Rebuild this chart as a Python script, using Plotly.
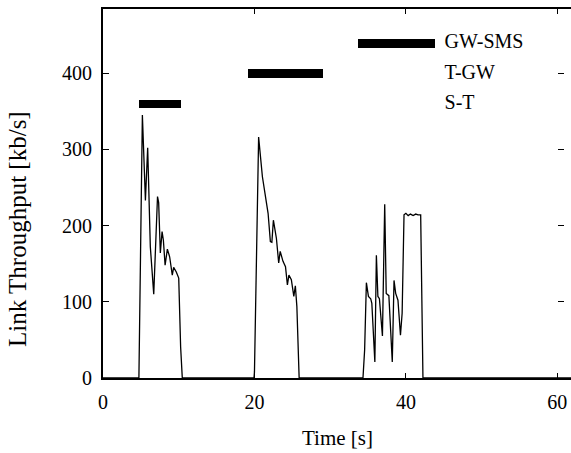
import plotly.graph_objects as go

# Throughput samples (time [s], throughput [kb/s])
time_s = [0, 4.74, 5.2, 5.6, 5.9, 6.25, 6.7, 7.2, 7.35, 7.57, 7.8, 7.97, 8.2, 8.5, 8.8,
          9.15, 9.33, 9.68, 10.0, 10.25, 10.47,
          19.94, 20.0, 20.55, 21.05, 21.44, 21.8, 22.1, 22.3, 22.5, 22.9, 23.2, 23.4,
          23.77, 24.1, 24.35, 24.55, 24.87, 25.2, 25.4, 25.6, 25.9,
          34.33, 34.55, 34.78, 35.05, 35.35, 35.5, 35.9, 36.1, 36.3, 36.5, 36.9, 37.2,
          37.4, 37.75, 38.2, 38.43, 38.65, 38.95, 39.28, 39.5, 39.75, 40.0, 40.3, 40.6,
          40.95, 41.3, 41.6, 41.95, 42.25, 62]
throughput = [0, 0, 345, 233, 302, 172, 110, 238, 230, 164, 192, 181, 148, 169, 159,
              135, 145, 139, 131, 41, 0,
              0, 8, 316, 264, 242, 216, 179, 178, 207, 183, 151, 166,
              153, 146, 122, 135, 129, 107, 121, 94, 0,
              0, 37, 125, 107, 104, 98, 21, 161, 107, 104, 55, 228,
              111, 108, 21, 128, 111, 102, 56, 85, 214, 216, 213, 215,
              213, 215, 214, 214, 0, 0]

# Phase bars
phase_names = ["S-T", "T-GW", "GW-SMS"]
phase_start = [4.7, 19.14, 33.67]
phase_end = [10.35, 29.05, 43.8]
phase_level = [359.5, 399, 439]
label_x = 45.1

x_ticks = [0, 20, 40, 60]
y_ticks = [0, 100, 200, 300, 400]
x_range = [0, 61.8]
y_range = [0, 484]

x_title = "Time [s]"
y_title = "Link Throughput [kb/s]"

font_family = "Liberation Serif"

fig = go.Figure()

fig.add_trace(go.Bar(
    y=phase_level,
    x=[e - s for s, e in zip(phase_start, phase_end)],
    base=phase_start,
    orientation="h",
    width=11.5,
    marker=dict(color="black", line=dict(width=0)),
    showlegend=False,
    hoverinfo="skip",
))

fig.add_trace(go.Scatter(
    x=time_s, y=throughput, mode="lines",
    line=dict(color="black", width=1.3),
    showlegend=False,
))

fig.add_trace(go.Scatter(
    x=[label_x] * len(phase_names), y=phase_level, text=phase_names,
    mode="text", textposition="middle right",
    textfont=dict(family=font_family, size=20, color="black"),
    showlegend=False, cliponaxis=False,
))

# invisible trace for right-side tick axis
fig.add_trace(go.Scatter(x=[None], y=[None], yaxis="y2", showlegend=False))

fig.update_layout(
    width=571, height=453, autosize=False,
    margin=dict(l=103, r=0, t=9, b=75),
    plot_bgcolor="white", paper_bgcolor="white",
    font=dict(family=font_family, size=20, color="black"),
    xaxis=dict(
        range=x_range, tickvals=x_ticks, ticks="inside", ticklen=5, tickwidth=1,
        tickcolor="black", showline=True, linecolor="black", linewidth=2,
        mirror="ticks", showgrid=False, zeroline=False, automargin=False,
        ticklabelstandoff=5,
        domain=[0, 1],
    ),
    yaxis=dict(
        range=y_range, tickvals=y_ticks, ticks="inside", ticklen=6, tickwidth=1,
        tickcolor="black", showline=True, linecolor="black", linewidth=2,
        showgrid=False, zeroline=False, automargin=False,
        ticklabelstandoff=5,
    ),
    yaxis2=dict(
        range=y_range, tickvals=y_ticks, ticks="inside", ticklen=6, tickwidth=1,
        tickcolor="black", showline=False, showgrid=False, zeroline=False,
        showticklabels=False, overlaying="y", anchor="free", side="right",
        position=0.984, automargin=False,
    ),
    annotations=[
        dict(text=x_title, xref="paper", yref="paper", x=0.5, y=-0.1626,
             xanchor="center", yanchor="middle", showarrow=False,
             font=dict(family=font_family, size=21, color="black")),
        dict(text=y_title, xref="paper", yref="paper", x=-0.1816, y=0.404,
             xanchor="center", yanchor="middle", textangle=-90, showarrow=False,
             font=dict(family=font_family, size=25, color="black")),
    ],
    bargap=0,
)

fig.write_html("out.html", post_script="document.body.style.margin='0';",
               config={"displayModeBar": False})
